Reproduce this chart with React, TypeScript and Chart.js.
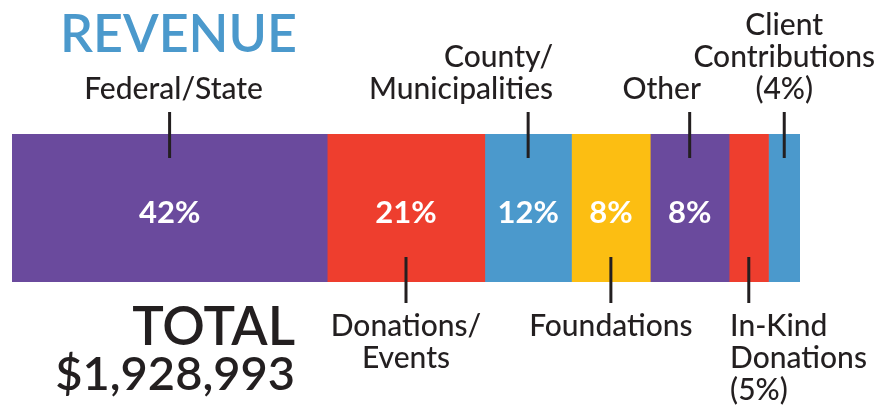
import React, { useEffect, useRef } from "react";
import { Chart, registerables } from "chart.js";

Chart.register(...registerables);

// ---- data ----
const categories = [
  "Federal/State",
  "Donations/Events",
  "County/Municipalities",
  "Foundations",
  "Other",
  "In-Kind Donations",
  "Client Contributions",
];
// drawn segment widths (as laid out in the graphic)
const segmentWidths = [40, 20, 11, 10, 10, 5, 4];
// printed shares
const percentLabels = ["42%", "21%", "12%", "8%", "8%", "", ""];
// label lines for each category
const labelLines = [
  ["Federal/State"],
  ["Donations/", "Events"],
  ["County/", "Municipalities"],
  ["Foundations"],
  ["Other"],
  ["In-Kind", "Donations", "(5%)"],
  ["Client", "Contributions", "(4%)"],
];
const labelSides = ["top", "bottom", "top", "bottom", "top", "bottom", "top"];
const labelAlign = ["center", "center", "right", "center", "center", "left", "center"];
const labelShift = [4, 0, 25, 0, -28, 1, 0];
const colors = ["#6A4A9D", "#EE3E2E", "#4B99CC", "#FCBE12", "#6A4A9D", "#EE3E2E", "#4B99CC"];
const titleText = "REVENUE";
const totalLabel = "TOTAL";
const totalValue = "$1,928,993";

const FONT = "Lato, 'Open Sans', sans-serif";
const DARK = "#231F20";

const annotate = {
  id: "annotate",
  afterDatasetsDraw(chart: any) {
    const ctx = chart.ctx as CanvasRenderingContext2D;
    ctx.save();

    // Title
    ctx.fillStyle = "#4B99CC";
    ctx.font = `600 52px ${FONT}`;
    ctx.textAlign = "left";
    ctx.textBaseline = "alphabetic";
    ctx.fillText(titleText, 60, 52);

    // Total
    ctx.fillStyle = DARK;
    ctx.textAlign = "right";
    ctx.font = `600 53px ${FONT}`;
    ctx.fillText(totalLabel, 295, 345);
    ctx.font = `600 47px ${FONT}`;
    ctx.fillText(totalValue, 295, 390);

    chart.data.datasets.forEach((ds: any, i: number) => {
      const el = chart.getDatasetMeta(i).data[0] as any;
      if (!el) return;
      const left = Math.min(el.x, el.base);
      const right = Math.max(el.x, el.base);
      const cx = (left + right) / 2;
      const top = el.y - el.height / 2;
      const bottom = el.y + el.height / 2;

      // percent label inside
      if (percentLabels[i]) {
        ctx.fillStyle = "#FFFFFF";
        ctx.font = `bold 31px ${FONT}`;
        ctx.textAlign = "center";
        ctx.textBaseline = "alphabetic";
        ctx.fillText(percentLabels[i], cx, el.y + 15);
      }

      // leader line
      ctx.strokeStyle = DARK;
      ctx.lineWidth = 3;
      ctx.beginPath();
      if (labelSides[i] === "top") {
        ctx.moveTo(cx, top - 22);
        ctx.lineTo(cx, top + 24);
      } else {
        ctx.moveTo(cx, bottom - 25);
        ctx.lineTo(cx, bottom + 21);
      }
      ctx.stroke();

      // category label
      const lines = labelLines[i];
      const align = labelAlign[i] as CanvasTextAlign;
      let x = cx + labelShift[i];
      if (align === "left") x = left + labelShift[i];
      ctx.fillStyle = DARK;
      ctx.font = `500 30px ${FONT}`;
      ctx.textAlign = align;
      ctx.textBaseline = "alphabetic";
      const lh = 32;
      if (labelSides[i] === "top") {
        const last = top - 35;
        lines.forEach((t, k) => {
          ctx.fillText(t, x, last - (lines.length - 1 - k) * lh);
        });
      } else {
        const first = bottom + 54;
        lines.forEach((t, k) => {
          ctx.fillText(t, x, first + k * lh);
        });
      }
    });
    ctx.restore();
  },
};

export default function App() {
  const ref = useRef<HTMLCanvasElement | null>(null);
  useEffect(() => {
    if (!ref.current) return;
    const chart = new Chart(ref.current, {
      type: "bar",
      data: {
        labels: ["Revenue"],
        datasets: categories.map((c, i) => ({
          label: c,
          data: [segmentWidths[i]],
          backgroundColor: colors[i],
          borderWidth: 0,
          categoryPercentage: 1,
          barPercentage: 1,
          stack: "rev",
        })),
      },
      options: {
        indexAxis: "y",
        responsive: false,
        animation: false,
        layout: { padding: { left: 12, right: 90, top: 134, bottom: 125 } },
        plugins: { legend: { display: false }, tooltip: { enabled: false } },
        scales: {
          x: { stacked: true, min: 0, max: 100, display: false },
          y: { stacked: true, display: false },
        },
      },
      plugins: [annotate],
    });
    return () => chart.destroy();
  }, []);
  return (
    <div style={{ position: "absolute", left: 0, top: 0, width: 890, height: 407, background: "#fff" }}>
      <canvas ref={ref} width={890} height={407} />
    </div>
  );
}
